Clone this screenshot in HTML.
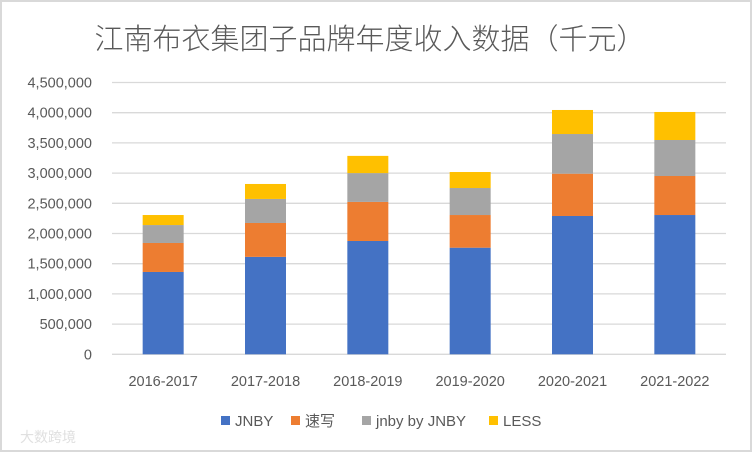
<!DOCTYPE html>
<html><head><meta charset="utf-8">
<style>
html,body{margin:0;padding:0;background:#fff;}
#wrap{position:relative;width:752px;height:452px;overflow:hidden;}
svg text{font-family:"Liberation Sans","Noto Sans CJK SC",sans-serif;fill:#595959;}
</style></head>
<body>
<div id="wrap">
<svg id="chart" width="752" height="452" xmlns="http://www.w3.org/2000/svg">
<rect x="1" y="1" width="750" height="450" fill="#fff" stroke="#d9d9d9" stroke-width="2"/>
<text x="370" y="49" text-anchor="middle" font-size="29" font-weight="300">江南布衣集团子品牌年度收入数据（千元）</text>
<g id="grid"></g>
<g id="bars"></g>
<g id="xlabels"></g>
<g id="legend"></g>
<text x="20" y="442" font-size="14" style="fill:#e0e0e0">大数跨境</text>
</svg>
</div>
<script>
const categories = ["2016-2017","2017-2018","2018-2019","2019-2020","2020-2021","2021-2022"];
const seriesNames = ["JNBY","速写","jnby by JNBY","LESS"];
const jnby = [1363000,1613000,1876000,1765000,2290000,2306000];
const suxie = [480000,561000,647000,541000,700000,646000];
const jnbyKids = [297000,398000,477000,447000,657000,596000];
const less = [166000,248000,285000,265000,398000,464000];
const yTicks = [0,500000,1000000,1500000,2000000,2500000,3000000,3500000,4000000,4500000];
const colors = ["#4472c4","#ed7d31","#a5a5a5","#ffc000"];
const series = [jnby, suxie, jnbyKids, less];

const NS = "http://www.w3.org/2000/svg";
const plotL = 112, plotR = 726, y0 = 354.3, yMax = 4500000, yTop = 82.5;
function yScale(v){ return y0 - (v / yMax) * (y0 - yTop); }
const band = (plotR - plotL) / categories.length;
function xCenter(i){ return plotL + band * (i + 0.5); }
const barW = 41;

function mk(tag, attrs){ const e = document.createElementNS(NS, tag); for (const k in attrs) e.setAttribute(k, attrs[k]); return e; }
const fmt = v => v.toLocaleString("en-US");

const grid = document.getElementById("grid");
yTicks.forEach(t => {
  const y = yScale(t);
  const l = mk("line", {x1: plotL, x2: plotR, y1: y, y2: y, stroke: "#d9d9d9", "stroke-width": 1.3});
  
  
  grid.appendChild(l);
  const tx = mk("text", {x: 92, y: y + 5, "text-anchor": "end", "font-size": 14.5});
  tx.textContent = fmt(t);
  
  
  grid.appendChild(tx);
});

const bars = document.getElementById("bars");
categories.forEach((c, i) => {
  let cum = 0;
  series.forEach((s, si) => {
    const yb = yScale(cum), yt = yScale(cum + s[i]);
    cum += s[i];
    const r = mk("rect", {x: xCenter(i) - barW/2, y: yt, width: barW, height: yb - yt, fill: colors[si]});
    
    
    bars.appendChild(r);
  });
});

const xl = document.getElementById("xlabels");
categories.forEach((c, i) => {
  const tx = mk("text", {x: xCenter(i), y: 386, "text-anchor": "middle", "font-size": 14.5});
  tx.textContent = c;
  
  
  xl.appendChild(tx);
});

const lg = document.getElementById("legend");
const legX = [221, 291, 362, 489];
seriesNames.forEach((n, i) => {
  const g = mk("g", {});
  
  
  g.appendChild(mk("rect", {x: legX[i], y: 416, width: 9, height: 9, fill: colors[i]}));
  const tx = mk("text", {x: legX[i] + 14, y: 426, "font-size": 15});
  tx.textContent = n;
  g.appendChild(tx);
  lg.appendChild(g);
});
</script>
</body></html>
